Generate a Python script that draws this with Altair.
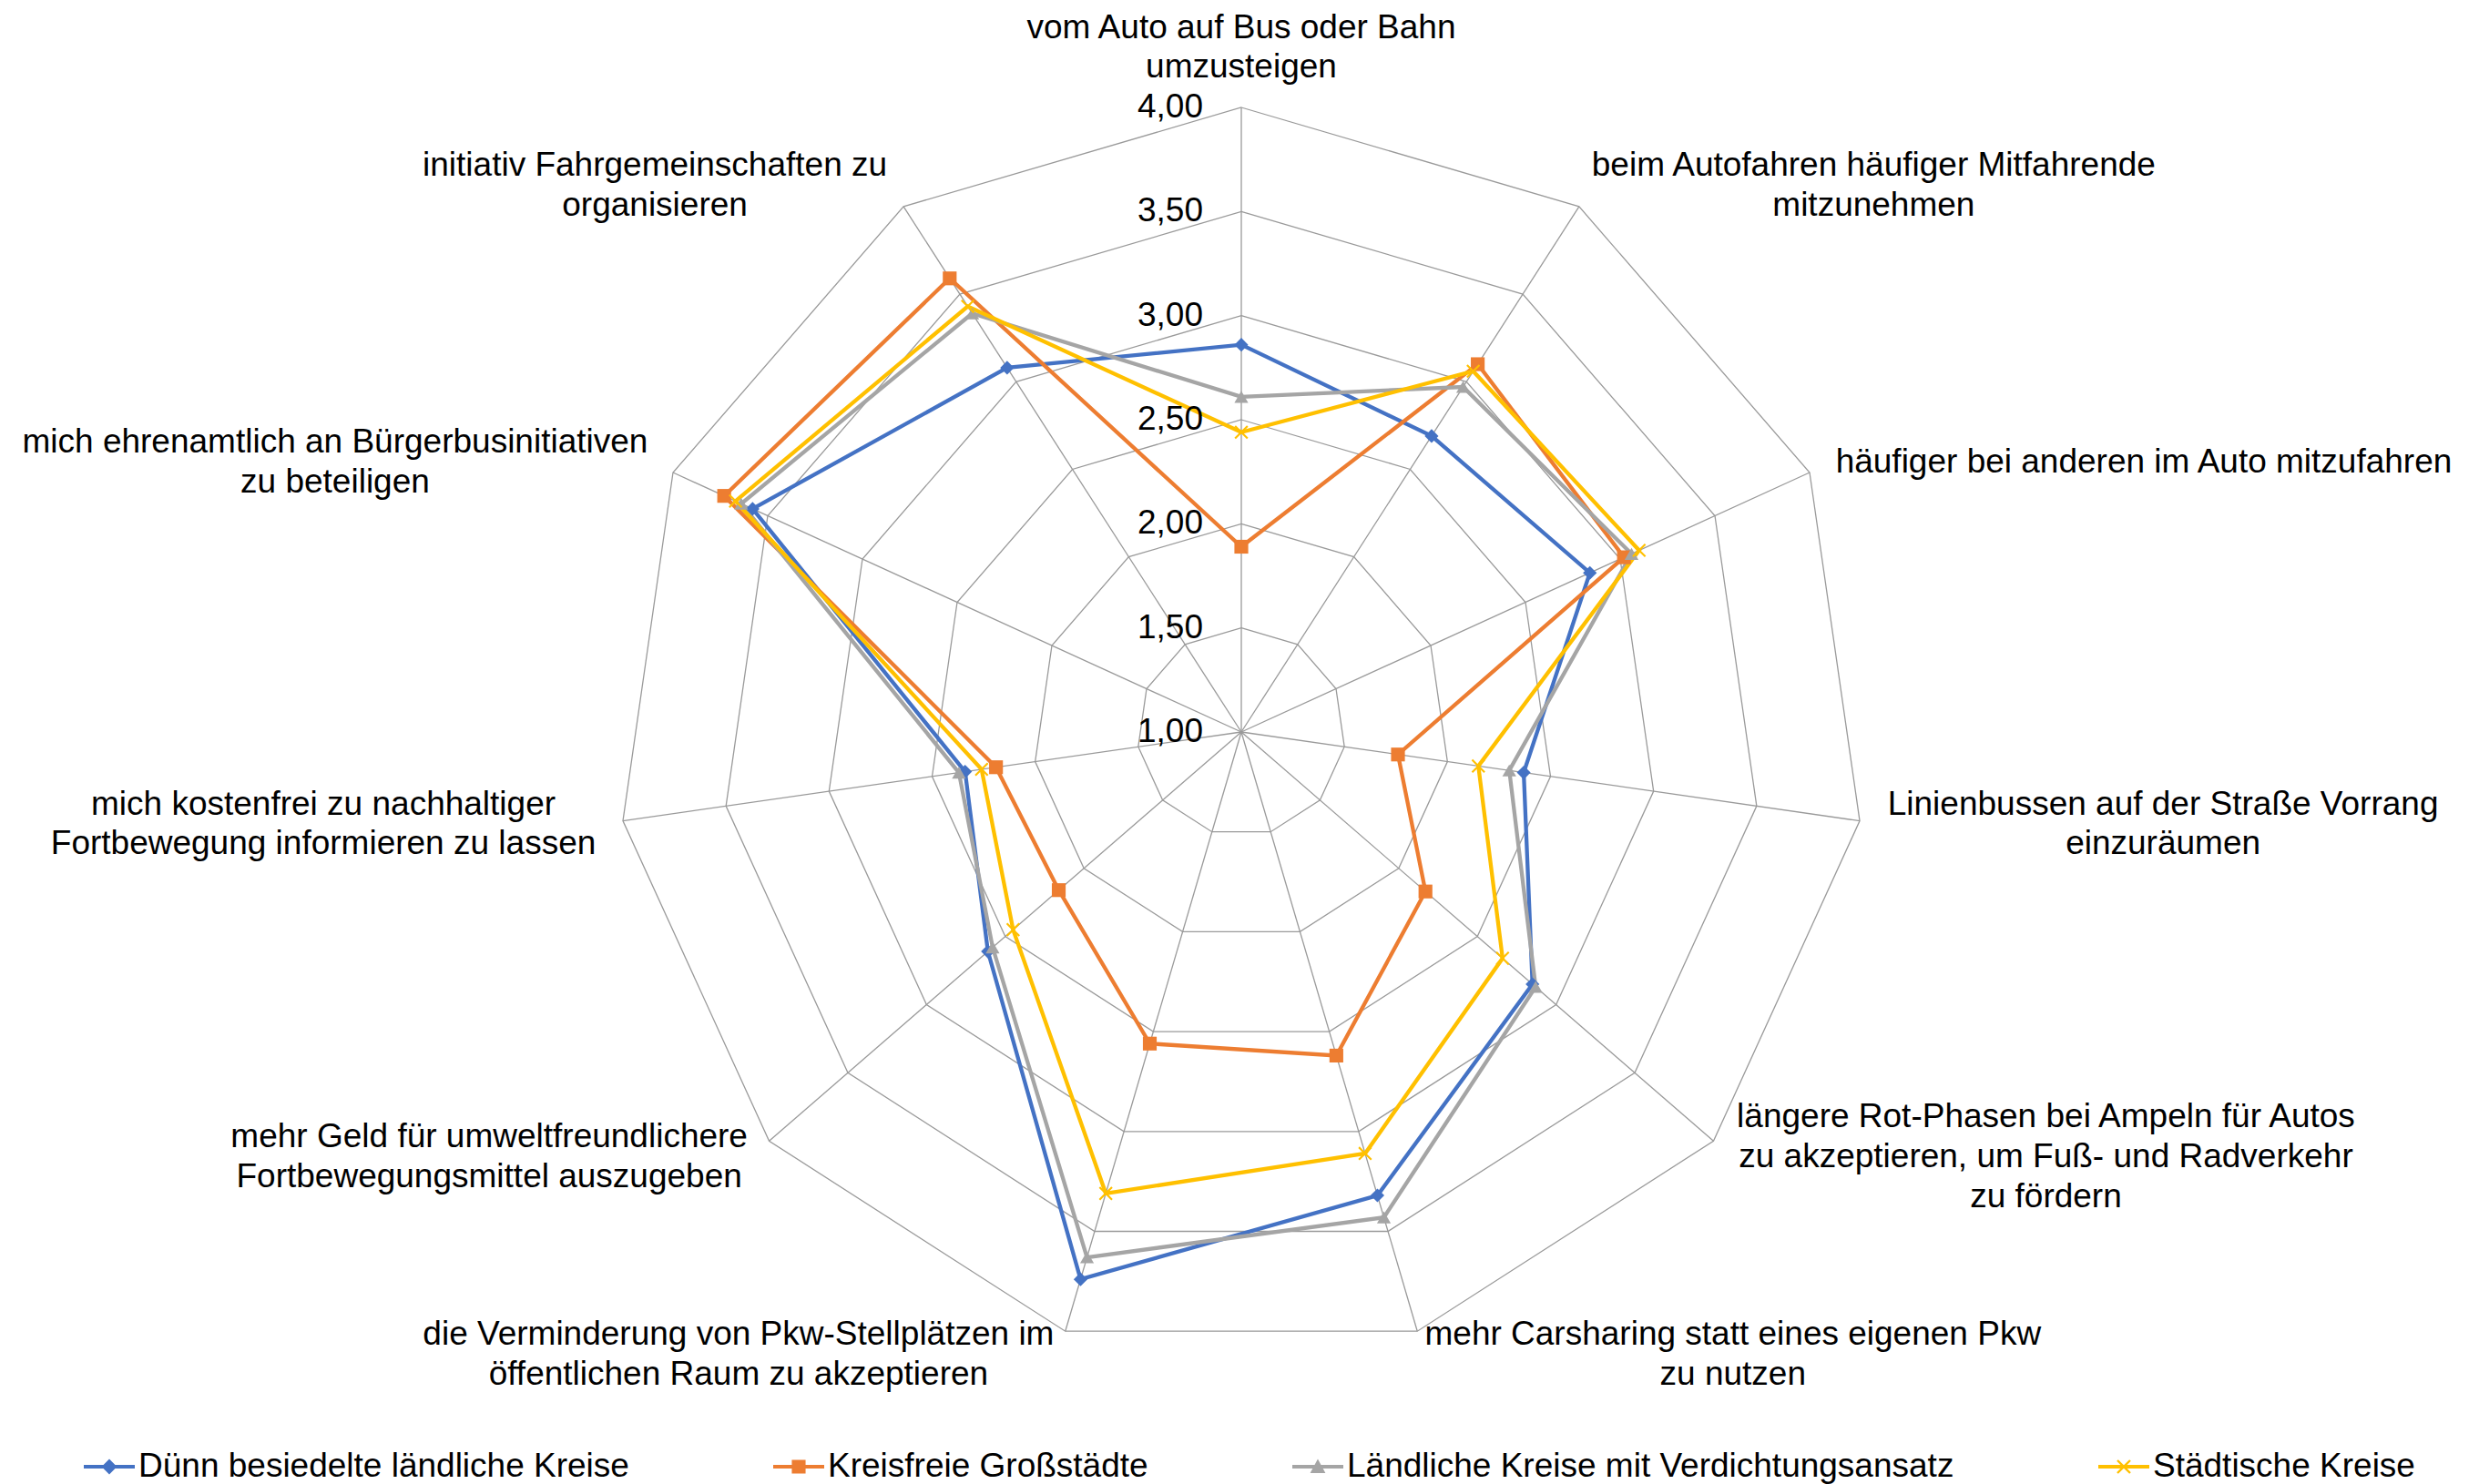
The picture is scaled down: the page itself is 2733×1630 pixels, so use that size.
import math
import altair as alt
import pandas as pd

# ---------------- data ----------------
categories = [
    "vom Auto auf Bus oder Bahn\numzusteigen",
    "beim Autofahren häufiger Mitfahrende\nmitzunehmen",
    "häufiger bei anderen im Auto mitzufahren",
    "Linienbussen auf der Straße Vorrang\neinzuräumen",
    "längere Rot-Phasen bei Ampeln für Autos\nzu akzeptieren, um Fuß- und Radverkehr\nzu fördern",
    "mehr Carsharing statt eines eigenen Pkw\nzu nutzen",
    "die Verminderung von Pkw-Stellplätzen im\nöffentlichen Raum zu akzeptieren",
    "mehr Geld für umweltfreundlichere\nFortbewegungsmittel auszugeben",
    "mich kostenfrei zu nachhaltiger\nFortbewegung informieren zu lassen",
    "mich ehrenamtlich an Bürgerbusinitiativen\nzu beteiligen",
    "initiativ Fahrgemeinschaften zu\norganisieren",
]
series_names = [
    "Dünn besiedelte ländliche Kreise",
    "Kreisfreie Großstädte",
    "Ländliche Kreise mit Verdichtungsansatz",
    "Städtische Kreise",
]
duenn_besiedelt = [2.86, 2.69, 2.84, 2.37, 2.85, 3.32, 3.74, 2.61, 2.34, 3.58, 3.08]
kreisfreie_grossstaedte = [1.89, 3.10, 3.02, 1.76, 2.17, 2.62, 2.56, 2.16, 2.19, 3.73, 3.59]
laendlich_verdichtung = [2.61, 2.97, 3.06, 2.30, 2.87, 3.43, 3.63, 2.58, 2.37, 3.64, 3.39]
staedtische_kreise = [2.44, 3.06, 3.10, 2.15, 2.66, 3.11, 3.31, 2.45, 2.26, 3.67, 3.43]
tick_values = [1.0, 1.5, 2.0, 2.5, 3.0, 3.5, 4.0]
tick_labels = ["1,00", "1,50", "2,00", "2,50", "3,00", "3,50", "4,00"]

# ---------------- style / layout ----------------
colors = ["#4472C4", "#ED7D31", "#A5A5A5", "#FFC000"]
FONT = "Liberation Sans"
FS = 37
LH = 43.6
GRID = "#9A9A9A"
W, H = 2717, 1622          # whole chart (autosize none, padding 0)
CX, CY, R = 1355, 796, 686  # radar centre and outer radius in px
VMIN, VMAX = 1.0, 4.0
N = len(categories)

xdom = [-CX / R, (W - CX) / R]
ydom = [-(H - CY) / R, CY / R]
xs = alt.Scale(domain=xdom, nice=False, zero=False)
ys = alt.Scale(domain=ydom, nice=False, zero=False)

X_PATH = "M-1,-0.8L-0.8,-1L0,-0.2L0.8,-1L1,-0.8L0.2,0L1,0.8L0.8,1L0,0.2L-0.8,1L-1,0.8L-0.2,0Z"
shapes = ["diamond", "square", "triangle-up", X_PATH]
LINE = "M-1,-0.075H1V0.075H-1Z"
legend_shapes = [
    LINE + "M0,-0.3L0.3,0L0,0.3L-0.3,0Z",
    LINE + "M-0.27,-0.27H0.27V0.27H-0.27Z",
    LINE + "M0,-0.3L0.3,0.25H-0.3Z",
    LINE + "M-0.28,-0.22L-0.22,-0.28L0,-0.06L0.22,-0.28L0.28,-0.22L0.06,0L0.28,0.22L0.22,0.28L0,0.06L-0.22,0.28L-0.28,0.22L-0.06,0Z",
]

# approximate Arial/Liberation Sans glyph widths (per 1000 em) for label block centring
CW = {" ": 278, "a": 556, "b": 556, "c": 500, "d": 556, "e": 556, "f": 278, "g": 556,
      "h": 556, "i": 222, "j": 222, "k": 500, "l": 222, "m": 833, "n": 556, "o": 556,
      "p": 556, "q": 556, "r": 333, "s": 500, "t": 278, "u": 556, "v": 500, "w": 722,
      "x": 500, "y": 500, "z": 500, "ä": 556, "ö": 556, "ü": 556, "ß": 611, "A": 667,
      "B": 667, "D": 722, "F": 611, "K": 667, "L": 556, "P": 667, "R": 722, "S": 667,
      "V": 667, "G": 778, "-": 333, ",": 278, ".": 278}


def text_w(s):
    return sum(CW.get(ch, 556) for ch in s) * FS / 1000.0


# ---------------- tables built from the arrays ----------------
all_series = [duenn_besiedelt, kreisfreie_grossstaedte, laendlich_verdichtung, staedtische_kreise]
rows = []
for name, vals in zip(series_names, all_series):
    for i, v in enumerate(vals):
        rows.append({"series": name, "idx": i, "value": v})
df = pd.DataFrame(rows)

ring_df = pd.DataFrame([{"level": lv, "idx": i} for lv in tick_values for i in range(N)])
spoke_df = pd.DataFrame({"idx": list(range(N))})
tick_df = pd.DataFrame({"label": tick_labels, "level": tick_values})
lab_df = pd.DataFrame({
    "label": categories,
    "idx": list(range(N)),
    "hw": [max(text_w(l) for l in c.split("\n")) / 2 for c in categories],
    "nl": [len(c.split("\n")) for c in categories],
})

ANG = f"datum.idx * 2 * PI / {N}"
RAD = f"(datum.value - {VMIN}) / ({VMAX} - {VMIN})"

def xenc(f):
    return alt.X(f"{f}:Q", scale=xs, axis=None)

def yenc(f):
    return alt.Y(f"{f}:Q", scale=ys, axis=None)

color_scale = alt.Scale(domain=series_names, range=colors)

rings = alt.Chart(ring_df).transform_calculate(
    a=ANG, r=f"(datum.level - {VMIN}) / ({VMAX} - {VMIN})"
).transform_calculate(
    x="datum.r * sin(datum.a)", y="datum.r * cos(datum.a)"
).mark_line(interpolate="linear-closed", stroke=GRID, strokeWidth=1.3).encode(
    x=xenc("x"), y=yenc("y"), detail="level:N", order="idx:Q"
)

spokes = alt.Chart(spoke_df).transform_calculate(
    a=ANG
).transform_calculate(
    x="sin(datum.a)", y="cos(datum.a)", x0="0", y0="0"
).mark_rule(stroke=GRID, strokeWidth=1.3).encode(
    x=xenc("x0"), y=yenc("y0"), x2="x:Q", y2="y:Q"
)

base = alt.Chart(df).transform_calculate(
    a=ANG, r=RAD
).transform_calculate(
    x="datum.r * sin(datum.a)", y="datum.r * cos(datum.a)"
)

lines = base.mark_line(interpolate="linear-closed", strokeWidth=4.3).encode(
    x=xenc("x"), y=yenc("y"), order="idx:Q",
    color=alt.Color("series:N", scale=color_scale, legend=None),
)

points = base.mark_point(filled=True, size=230, opacity=1).encode(
    x=xenc("x"), y=yenc("y"),
    color=alt.Color("series:N", scale=color_scale, legend=None),
    shape=alt.Shape("series:N", scale=alt.Scale(domain=series_names, range=shapes), legend=None),
)

leg = alt.Legend(
    title=None, orient="none", legendX=84, legendY=1575, direction="horizontal",
    columns=4, columnPadding=158, labelFontSize=FS, labelFont=FONT, labelColor="#000000",
    symbolSize=3136, labelOffset=4, labelLimit=0, padding=0, symbolStrokeWidth=0,
)
legend_layer = base.transform_filter("false").mark_point(filled=True, opacity=1).encode(
    x=xenc("x"), y=yenc("y"),
    color=alt.Color("series:N", scale=color_scale, legend=leg),
    shape=alt.Shape("series:N", scale=alt.Scale(domain=series_names, range=legend_shapes), legend=leg),
)

ticks = alt.Chart(tick_df).transform_calculate(
    x="0", y=f"(datum.level - {VMIN}) / ({VMAX} - {VMIN})"
).mark_text(align="right", baseline="middle", dx=-42, font=FONT, fontSize=FS, color="#000000").encode(
    x=xenc("x"), y=yenc("y"), text="label:N"
)

# label block centre: outside the outer vertex; first line placed so the block is centred
labels = alt.Chart(lab_df).transform_calculate(
    a=ANG
).transform_calculate(
    s="sin(datum.a)", c="cos(datum.a)"
).transform_calculate(
    lx=f"datum.s + (abs(datum.s) < 0.1 ? 0 : (datum.s > 0 ? 1 : -1) * (4 + 26 * abs(datum.s) + datum.hw) / {R})",
    ly=(f"datum.c + (abs(datum.s) < 0.1 ? datum.c * (22 + datum.nl * {LH} / 2) / {R} : 27 * datum.c / {R})"
        f" + (datum.nl - 1) * {LH} / 2 / {R}"),
).mark_text(align="center", baseline="middle", lineBreak="\n", lineHeight=LH,
            font=FONT, fontSize=FS, color="#000000").encode(
    x=xenc("lx"), y=yenc("ly"), text="label:N"
)

chart = alt.layer(rings, spokes, lines, points, legend_layer, ticks, labels).resolve_scale(
    color="independent", shape="independent"
).properties(
    width=W, height=H, autosize=alt.AutoSizeParams(type="none"), padding=0,
    background="#FFFFFF",
).configure_view(stroke=None)

chart.save("out.html", embed_options={"renderer": "svg", "actions": False})
